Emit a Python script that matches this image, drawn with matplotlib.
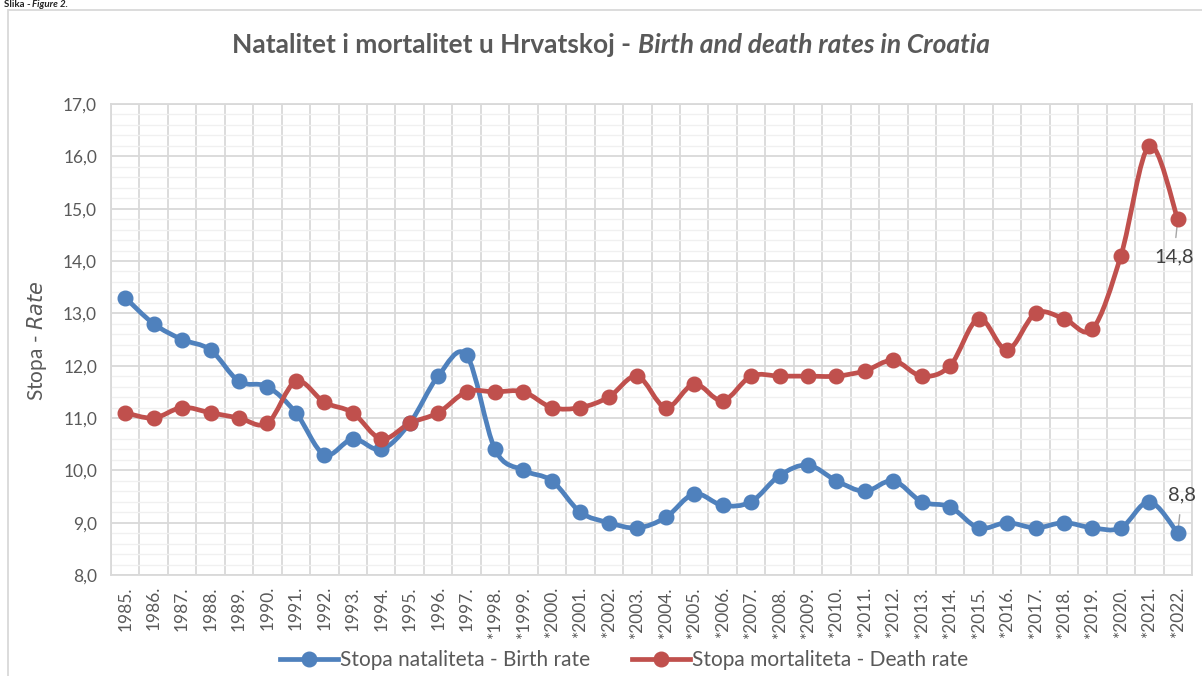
import numpy as np
import matplotlib
matplotlib.use('Agg')
import matplotlib.pyplot as plt
from matplotlib.path import Path
from matplotlib.patches import PathPatch, Rectangle
from matplotlib.lines import Line2D
from matplotlib.ticker import MultipleLocator, FuncFormatter

plt.rcParams['font.family'] = ['Lato', 'DejaVu Sans']

years = ['1985.', '1986.', '1987.', '1988.', '1989.', '1990.', '1991.', '1992.',
         '1993.', '1994.', '1995.', '1996.', '1997.', '*1998.', '*1999.', '*2000.',
         '*2001.', '*2002.', '*2003.', '*2004.', '*2005.', '*2006.', '*2007.',
         '*2008.', '*2009.', '*2010.', '*2011.', '*2012.', '*2013.', '*2014.',
         '*2015.', '*2016.', '*2017.', '*2018.', '*2019.', '*2020.', '*2021.',
         '*2022.']
birth_rate = [13.3, 12.8, 12.5, 12.3, 11.7, 11.6, 11.1, 10.3, 10.6, 10.4, 10.9,
              11.8, 12.2, 10.4, 10.0, 9.8, 9.2, 9.0, 8.9, 9.1, 9.55, 9.33, 9.4,
              9.9, 10.1, 9.8, 9.6, 9.8, 9.4, 9.3, 8.9, 9.0, 8.9, 9.0, 8.9, 8.9,
              9.4, 8.8]
death_rate = [11.1, 11.0, 11.2, 11.1, 11.0, 10.9, 11.7, 11.3, 11.1, 10.6, 10.9,
              11.1, 11.5, 11.5, 11.5, 11.2, 11.2, 11.4, 11.8, 11.2, 11.65, 11.33,
              11.8, 11.8, 11.8, 11.8, 11.9, 12.1, 11.8, 12.0, 12.9, 12.3, 13.0,
              12.9, 12.7, 14.1, 16.2, 14.8]

blue = '#4F81BD'
red = '#C0504D'
txt = '#595959'
grid_major = '#D9D9D9'
grid_minor = '#F0F0F0'


def smooth_path(x, y):
    # excel-like smoothed line: cubic bezier segments through the points
    pts = np.column_stack([x, y]).astype(float)
    n = len(pts)
    verts = [pts[0]]
    codes = [Path.MOVETO]
    for i in range(n - 1):
        p0 = pts[i - 1] if i > 0 else pts[i]
        p1 = pts[i]
        p2 = pts[i + 1]
        p3 = pts[i + 2] if i + 2 < n else pts[i + 1]
        c1 = p1 + (p2 - p0) / 6.0
        c2 = p2 - (p3 - p1) / 6.0
        verts += [c1, c2, p2]
        codes += [Path.CURVE4] * 3
    return Path(verts, codes)


fig = plt.figure(figsize=(12.02, 6.76), dpi=100)
ax = fig.add_axes([111 / 1202, 1 - 575 / 676, 1081 / 1202, 471 / 676])

x = np.arange(len(years))

for vals, col in [(birth_rate, blue), (death_rate, red)]:
    patch = PathPatch(smooth_path(x, vals), fill=False, edgecolor=col, lw=3.4,
                      capstyle='round', joinstyle='round', zorder=3)
    ax.add_patch(patch)
    ax.plot(x, vals, 'o', color=col, markersize=10.5, zorder=4)

ax.set_xlim(-0.5, len(years) - 0.5)
ax.set_ylim(8.0, 17.0)

ax.yaxis.set_major_locator(MultipleLocator(1.0))
ax.yaxis.set_minor_locator(MultipleLocator(0.2))
ax.yaxis.set_major_formatter(FuncFormatter(lambda v, p: ('%.1f' % v).replace('.', ',')))
ax.set_xticks(x)
ax.set_xticklabels(years, rotation=90)
ax.set_xticks(np.arange(-0.5, len(years), 1.0), minor=True)

ax.grid(which='major', axis='y', color=grid_major, lw=1.3, zorder=1)
ax.grid(which='minor', axis='y', color=grid_minor, lw=1.0, zorder=0)
ax.grid(which='minor', axis='x', color=grid_major, lw=1.3, zorder=1)
ax.grid(which='major', axis='x', visible=False)
ax.set_axisbelow(True)

ax.tick_params(axis='both', which='both', length=0, colors=txt, labelsize=12.5)
ax.tick_params(axis='y', pad=10)
ax.tick_params(axis='x', pad=8)
for s in ax.spines.values():
    s.set_color(grid_major)
    s.set_linewidth(1.3)

# y label with italic part
fig.text(37 / 1202, 1 - 341 / 676, 'Stopa - $\\mathit{Rate}$', rotation=90,
         ha='center', va='center', fontsize=15, color=txt)

# data labels for last points
ax.annotate('14,8', xy=(x[-1], death_rate[-1]), xytext=(-4, -38),
            textcoords='offset pixels', ha='center', va='center', fontsize=14.5,
            color='#404040',
            arrowprops=dict(arrowstyle='-', color='#A6A6A6', lw=1.0,
                            shrinkA=6, shrinkB=3))
ax.annotate('8,8', xy=(x[-1], birth_rate[-1]), xytext=(4, 38),
            textcoords='offset pixels', ha='center', va='center', fontsize=14.5,
            color='#404040',
            arrowprops=dict(arrowstyle='-', color='#A6A6A6', lw=1.0,
                            shrinkA=6, shrinkB=3))

# title in two parts (normal bold + bold italic)
fig.canvas.draw()
r = fig.canvas.get_renderer()
t1 = fig.text(0, 1 - 45 / 676, 'Natalitet i mortalitet u Hrvatskoj - ',
              fontsize=19, fontweight='bold', color=txt, va='center')
t2 = fig.text(0, 1 - 45 / 676, 'Birth and death rates in Croatia',
              fontsize=19, fontweight='bold', style='italic', color=txt, va='center')
w1 = t1.get_window_extent(r).width
w2 = t2.get_window_extent(r).width
x0 = 611 - (w1 + w2) / 2
t1.set_x(x0 / 1202)
t2.set_x((x0 + w1) / 1202)

# caption at the very top
fig.text(4 / 1202, 1.0, 'Slika - ', fontsize=7, fontweight='bold',
         color='#222222', va='top')
fig.text(32 / 1202, 1.0, 'Figure 2.', fontsize=7, fontweight='bold',
         style='italic', color='#222222', va='top')

# chart frame
fig.patches.append(Rectangle((8 / 1202, -0.1), 1.2, 1 - 10 / 676 + 0.1,
                             transform=fig.transFigure, fill=False,
                             edgecolor=grid_major, lw=1.3))

handles = [Line2D([], [], color=blue, lw=3.4, marker='o', markersize=10.5),
           Line2D([], [], color=red, lw=3.4, marker='o', markersize=10.5)]
leg = fig.legend(handles, ['Stopa nataliteta - Birth rate',
                           'Stopa mortaliteta - Death rate'],
                 loc='center', bbox_to_anchor=(624 / 1202, 1 - 660 / 676), ncol=2,
                 frameon=False, fontsize=15, handlelength=2.8,
                 handletextpad=0.1, columnspacing=2.0)
for t in leg.get_texts():
    t.set_color(txt)

fig.savefig('out.png', dpi=100)
